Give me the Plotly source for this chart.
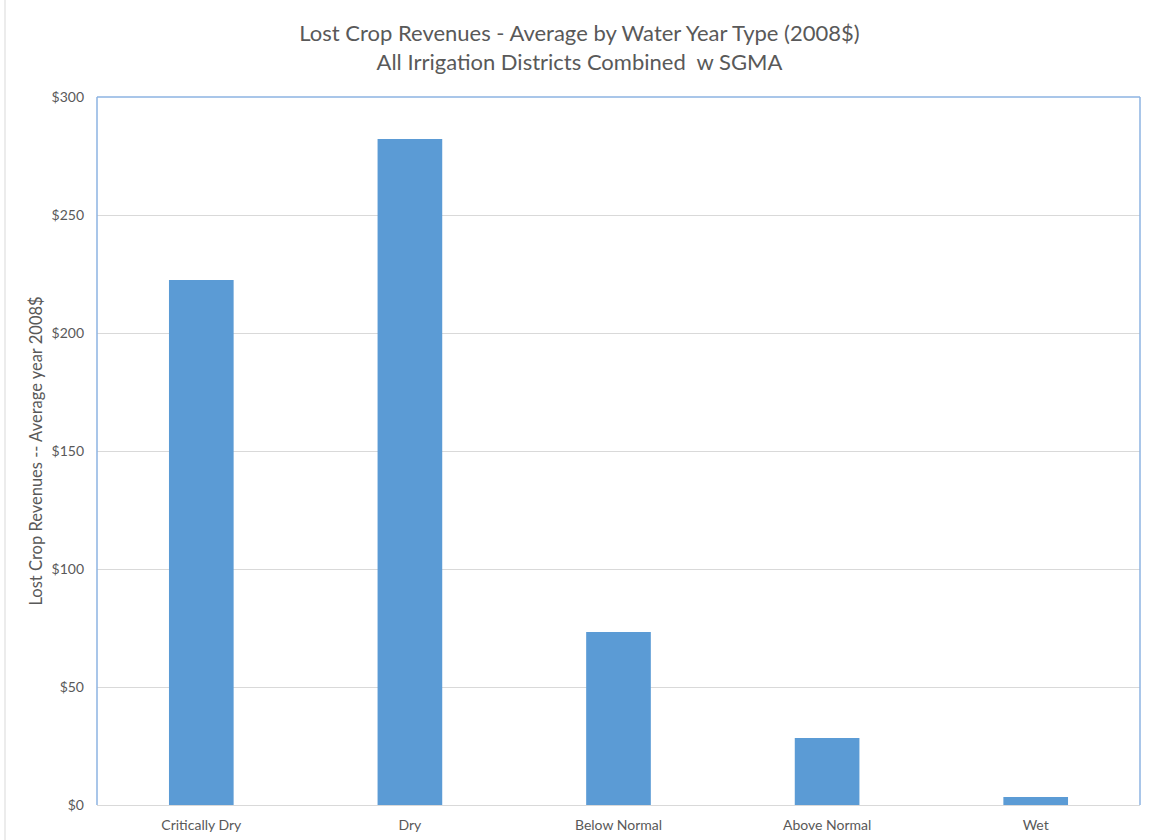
import plotly.graph_objects as go

categories = ["Critically Dry", "Dry", "Below Normal", "Above Normal", "Wet"]
values = [222.5, 282.2, 73.3, 28.4, 3.4]
y_ticks = [0, 50, 100, 150, 200, 250, 300]
y_tick_labels = ["$0", "$50", "$100", "$150", "$200", "$250", "$300"]

font_family = "Lato, Open Sans, sans-serif"
text_color = "#595959"

fig = go.Figure()
fig.add_trace(go.Bar(
    x=categories, y=values,
    marker=dict(color="#5B9BD5", line=dict(width=0)),
    width=0.31,
))

L, R, T, B = 97, 12, 97, 35
W, H = 1152, 840
pw = W - L - R

fig.update_layout(
    width=W, height=H,
    margin=dict(l=L, r=R, t=T, b=B),
    paper_bgcolor="white", plot_bgcolor="white",
    showlegend=False,
    font=dict(family=font_family, color=text_color),
    title=dict(
        text="Lost Crop Revenues - Average by Water Year Type (2008$)<br>All Irrigation Districts Combined  w SGMA",
        x=0.503, xanchor="center", y=0.951, yanchor="top",
        font=dict(size=22, color=text_color, family=font_family),
    ),
    xaxis=dict(
        showgrid=False, showline=True, linecolor="#D9D9D9", linewidth=1,
        ticks="", tickfont=dict(size=14, color=text_color),
        ticklabelstandoff=7, mirror=False, automargin=False,
    ),
    yaxis=dict(
        range=[0, 300], tickvals=y_ticks, ticktext=y_tick_labels,
        showgrid=True, gridcolor="#D9D9D9", gridwidth=1,
        showline=False, zeroline=False, ticks="",
        tickfont=dict(size=14, color=text_color),
        ticklabelstandoff=12, automargin=False,
        title=dict(text="Lost Crop Revenues -- Average year 2008$",
                   font=dict(size=16.5, color=text_color), standoff=4),
    ),
    bargap=0.69,
)

# Plot-area blue border (left, top, right)
border_col = "#8DB3E2"
fig.add_shape(type="line", xref="paper", yref="paper", x0=0, x1=0, y0=0, y1=1,
              line=dict(color=border_col, width=1.5))
fig.add_shape(type="line", xref="paper", yref="paper", x0=0, x1=1, y0=1, y1=1,
              line=dict(color=border_col, width=1.5))
fig.add_shape(type="line", xref="paper", yref="paper", x0=1, x1=1, y0=0, y1=1,
              line=dict(color=border_col, width=1.5))
# Outer chart border on left
fig.add_shape(type="line", xref="paper", yref="paper",
              x0=(5 - L) / pw, x1=(5 - L) / pw, y0=-B / (H - T - B), y1=(H - B) / (H - T - B),
              line=dict(color="#D9D9D9", width=1))

fig.write_html("out.html", config={"displayModeBar": False},
               post_script="document.body.style.margin='0';document.body.style.overflow='hidden';")
